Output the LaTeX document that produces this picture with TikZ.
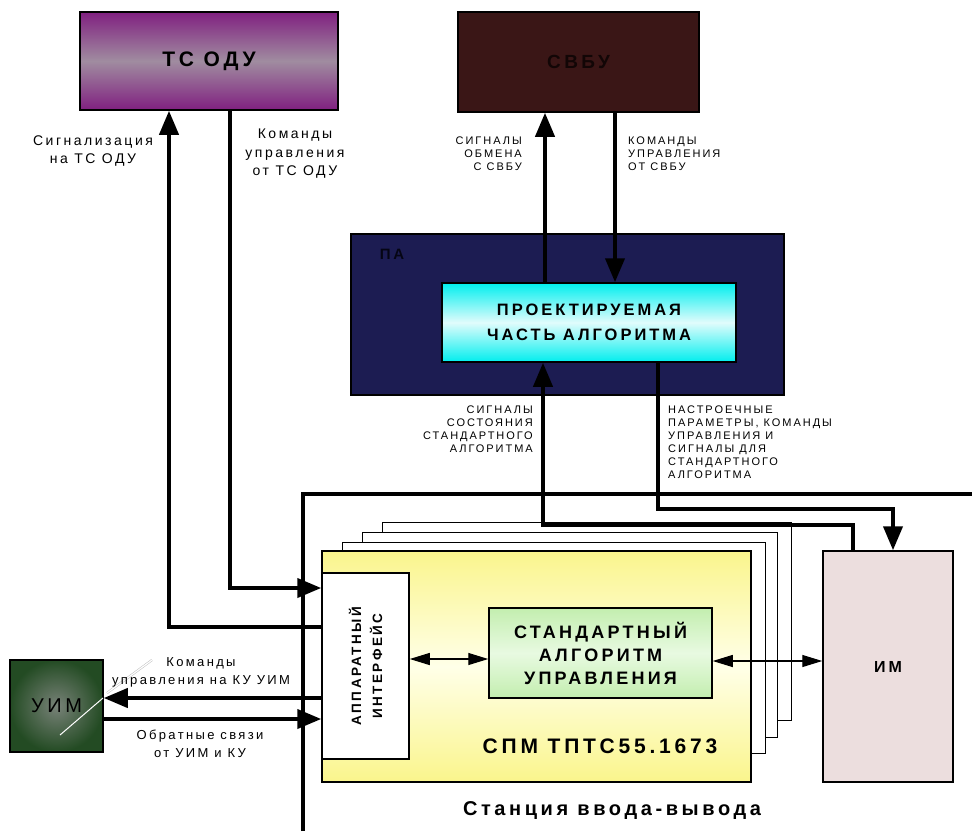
\documentclass[tikz,border=0pt]{standalone}
\usepackage{fontspec}
\setmainfont{Liberation Sans}[LetterSpace=18]
\usetikzlibrary{arrows.meta}

\definecolor{tspurple}{RGB}{128,32,128}
\definecolor{tsgrey}{RGB}{160,140,160}
\definecolor{svbubrown}{RGB}{58,22,22}
\definecolor{svbutext}{RGB}{18,6,6}
\definecolor{panavy}{RGB}{28,28,82}
\definecolor{patext}{RGB}{5,5,20}
\definecolor{projcyan}{RGB}{0,238,238}
\definecolor{projlight}{RGB}{225,252,252}
\definecolor{uimgreen}{RGB}{35,75,35}
\definecolor{uimgrey}{RGB}{120,130,120}
\definecolor{spmyellow}{RGB}{250,245,140}
\definecolor{spmlight}{RGB}{255,255,232}
\definecolor{alggreen}{RGB}{195,238,175}
\definecolor{alglight}{RGB}{232,250,225}
\definecolor{impink}{RGB}{236,222,222}

\tikzset{
  block/.style={draw=black, line width=1.5pt, inner sep=0pt, align=center},
  sheet/.style={draw=black, fill=white, line width=1pt, inner sep=0pt},
  thickline/.style={line width=4pt},
  bigarrow/.style={line width=4pt, -{Triangle[length=24pt,width=19pt]}},
  thinarrows/.style={line width=1.2pt, {Triangle[length=20pt,width=12pt]}-{Triangle[length=20pt,width=12pt]}},
  lbl/.style={font=\fontsize{14}{18.5}\selectfont, align=center, inner sep=0pt},
  caplbl/.style={font=\fontsize{11}{13}\selectfont, inner sep=0pt},
}

\begin{document}
\begin{tikzpicture}[x=1pt, y=-1pt]
    \useasboundingbox (0,0) rectangle (972,831);

    % station frame
    \coordinate (framebot) at (303,831);
    \coordinate (frameright) at (972,494);
    \draw[thickline] (framebot) |- (frameright);
    \node[font=\bfseries\fontsize{20}{20}\selectfont] (stationlbl) at (612,810) {Станция ввода-вывода};

    % stacked modules
    \node[sheet, minimum width=409pt, minimum height=198pt] (sheetc) at (586.5,621) {};
    \node[sheet, minimum width=415pt, minimum height=205pt] (sheetb) at (569.5,634.5) {};
    \node[sheet, minimum width=423pt, minimum height=211pt] (sheeta) at (553.5,647.5) {};
    \node[block, minimum width=429pt, minimum height=231pt,
        top color=spmyellow, bottom color=spmyellow, middle color=spmlight] (spm) at (536.5,666.5) {};
    \node[font=\bfseries\fontsize{21}{21}\selectfont] (spmlbl) at (600,746) {СПМ ТПТС55.1673};
    \node[block, fill=white, minimum width=87pt, minimum height=186pt] (iface) at (365.5,666)
        {\rotatebox{90}{\parbox{150pt}{\centering\bfseries\fontsize{13.5}{21}\selectfont АППАРАТНЫЙ\\ИНТЕРФЕЙС}}};
    \node[block, minimum width=223pt, minimum height=90pt,
        top color=alggreen, bottom color=alggreen, middle color=alglight,
        font=\bfseries\fontsize{18}{23}\selectfont] (stdalg) at (600.5,653) {СТАНДАРТНЫЙ\\АЛГОРИТМ\\УПРАВЛЕНИЯ};
    \node[block, fill=impink, minimum width=130pt, minimum height=231pt,
        font=\bfseries\fontsize{16}{16}\selectfont] (im) at (888,666.5) {ИМ};

    % upper level
    \node[block, fill=panavy, minimum width=433pt, minimum height=161pt] (pa) at (567.5,314.5) {};
    \node[font=\bfseries\fontsize{15}{15}\selectfont, text=patext] (palbl) at (392,254) {ПА};
    \node[block, top color=projcyan, bottom color=projcyan, middle color=projlight,
        minimum width=294pt, minimum height=79pt,
        font=\bfseries\fontsize{16.5}{25}\selectfont] (proj) at (589,322.5) {ПРОЕКТИРУЕМАЯ\\ЧАСТЬ АЛГОРИТМА};
    \node[block, top color=tspurple, bottom color=tspurple, middle color=tsgrey,
        minimum width=258pt, minimum height=98pt,
        font=\bfseries\fontsize{21}{21}\selectfont] (tsodu) at (209,61) {ТС ОДУ};
    \node[block, fill=svbubrown, text=svbutext, minimum width=241pt, minimum height=100pt,
        font=\bfseries\fontsize{19}{19}\selectfont] (svbu) at (578.5,62) {СВБУ};
    \node[block, shading=radial, inner color=uimgrey, outer color=uimgreen,
        minimum width=93pt, minimum height=92pt,
        font=\fontsize{20}{20}\selectfont] (uim) at (56.5,706) {УИМ};

    % links
    \draw[bigarrow] ([yshift=39pt]iface.west) -| ([xshift=-40pt]tsodu.south);
    \draw[bigarrow] ([xshift=21pt]tsodu.south) |- ([yshift=78pt]iface.west);
    \draw[bigarrow] ([yshift=-32pt]iface.west) -- ([yshift=8pt]uim.east);
    \draw[bigarrow] ([yshift=-13pt]uim.east) -- ([yshift=-53pt]iface.west);
    \draw[bigarrow] ([xshift=-44pt]proj.north) -- ([xshift=-33.5pt]svbu.south);
    \draw[bigarrow] ([xshift=36.5pt]svbu.south) -- ([xshift=26pt]proj.north);
    \draw[bigarrow] ([xshift=-35pt]im.north) -- ++(0,-25) -| ([xshift=-46pt]proj.south);
    \draw[bigarrow] ([xshift=69pt]proj.south) |- ([xshift=5pt,yshift=41pt]im.north) -- ([xshift=5pt]im.north);
    \draw[thinarrows] ([yshift=7pt]iface.east) -- ([yshift=-6pt]stdalg.west);
    \draw[thinarrows] ([yshift=-8pt]stdalg.east) -- ([yshift=5.5pt]im.west);

    % stray marks
    \draw[gray!50, line width=0.5pt, double, double distance=1.2pt] (181,632) -- (181,648);
    \draw[white, line width=1pt] (60,735) -- (103,698);
    \draw[gray!50, line width=0.5pt, double, double distance=1.2pt] (107,693) -- (152,660);

    % labels
    \node[lbl] (siglbl) at (93,151) {Сигнализация\\на ТС ОДУ};
    \node[lbl] (cmdlbl) at (295,154) {Команды\\управления\\от ТС ОДУ};
    \node[caplbl, align=right, anchor=north east] (obmlbl) at (522,137) {СИГНАЛЫ\\ОБМЕНА\\С СВБУ};
    \node[caplbl, align=left, anchor=north west] (cmdsvbulbl) at (628,137) {КОМАНДЫ\\УПРАВЛЕНИЯ\\ОТ СВБУ};
    \node[caplbl, align=right, anchor=north east] (sostlbl) at (533,406) {СИГНАЛЫ\\СОСТОЯНИЯ\\СТАНДАРТНОГО\\АЛГОРИТМА};
    \node[caplbl, align=left, anchor=north west] (nastrlbl) at (668,406) {НАСТРОЕЧНЫЕ\\ПАРАМЕТРЫ, КОМАНДЫ\\УПРАВЛЕНИЯ И\\СИГНАЛЫ ДЛЯ\\СТАНДАРТНОГО\\АЛГОРИТМА};
    \node[lbl, font=\fontsize{13}{18}\selectfont] (cmduimlbl) at (201,672) {Команды\\управления на КУ УИМ};
    \node[lbl, font=\fontsize{13}{18}\selectfont] (obrlbl) at (200,744) {Обратные связи\\от УИМ и КУ};
\end{tikzpicture}
\end{document}
